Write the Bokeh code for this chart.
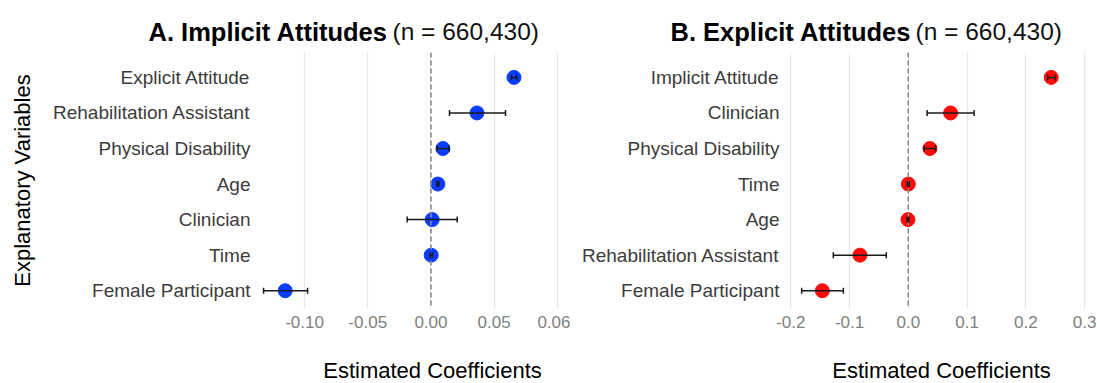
from bokeh.plotting import figure
from bokeh.models import (Span, Whisker, TeeHead, ColumnDataSource, FixedTicker,
                          Range1d, Label)
from bokeh.layouts import row, column
from bokeh.embed import file_html
from bokeh.resources import INLINE

# ---------------- data ----------------
left_vars = ["Explicit Attitude", "Rehabilitation Assistant", "Physical Disability",
             "Age", "Clinician", "Time", "Female Participant"]
left_est = [0.0657, 0.0364, 0.0095, 0.0055, 0.0010, 0.0002, -0.1153]
left_lo = [0.0637, 0.0147, 0.0047, 0.0047, -0.0188, -0.0006, -0.1324]
left_hi = [0.0677, 0.0590, 0.0145, 0.0063, 0.0208, 0.0010, -0.0976]

right_vars = ["Implicit Attitude", "Clinician", "Physical Disability", "Time",
              "Age", "Rehabilitation Assistant", "Female Participant"]
right_est = [0.2432, 0.0720, 0.0368, 0.0000, -0.0006, -0.0823, -0.1463]
right_lo = [0.2373, 0.0320, 0.0270, -0.0015, -0.0020, -0.1276, -0.1815]
right_hi = [0.2500, 0.1120, 0.0465, 0.0015, 0.0010, -0.0374, -0.1105]

left_ticks = [-0.10, -0.05, 0.0, 0.05, 0.10]
left_tick_labels = ["-0.10", "-0.05", "0.00", "0.05", "0.06"]
right_ticks = [-0.2, -0.1, 0.0, 0.1, 0.2, 0.3]
right_tick_labels = ["-0.2", "-0.1", "0.0", "0.1", "0.2", "0.3"]

titles_bold = ["A. Implicit Attitudes", "B. Explicit Attitudes"]
titles_rest = ["(n = 660,430)", "(n = 660,430)"]
x_title = "Estimated Coefficients"
y_title = "Explanatory Variables"

FONT = "Liberation Sans"
W = 1097
TITLE_H = 48
FRAME_H = 256
TOP = 4
BOTTOM = 40
XT_H = 34


def panel(vars_, est, lo, hi, color, xr, ticks, tick_labels, frame_w,
          border_l, border_r, ylab):
    n = len(vars_)
    ys = [n - i for i in range(n)]
    src = ColumnDataSource(dict(y=ys, est=est, lo=lo, hi=hi))
    p = figure(output_backend="svg", toolbar_location=None,
               frame_width=frame_w, frame_height=FRAME_H,
               min_border_left=border_l, min_border_right=border_r,
               min_border_top=TOP, min_border_bottom=BOTTOM,
               x_range=Range1d(*xr), y_range=Range1d(0.5, n + 0.7))
    p.outline_line_color = None
    p.background_fill_color = "white"
    p.border_fill_color = "white"
    p.ygrid.grid_line_color = None
    p.xgrid.grid_line_color = "#e6e6e6"
    p.xgrid.grid_line_width = 1.3
    p.xaxis.ticker = FixedTicker(ticks=ticks)
    p.xaxis.major_label_overrides = {t: l for t, l in zip(ticks, tick_labels)}
    p.yaxis.ticker = FixedTicker(ticks=ys)
    p.yaxis.major_label_overrides = {y: v for y, v in zip(ys, vars_)}
    for ax in (p.xaxis[0], p.yaxis[0]):
        ax.axis_line_color = None
        ax.major_tick_line_color = None
        ax.minor_tick_line_color = None
        ax.major_tick_out = 0
        ax.major_tick_in = 0
        ax.major_label_text_font = FONT
        ax.axis_label_text_font = FONT
        ax.axis_label_text_font_style = "normal"
        ax.axis_label_text_color = "black"
    p.xaxis.major_label_text_font_size = "17px"
    p.xaxis.major_label_text_color = "#808080"
    p.xaxis.major_label_standoff = 7
    p.yaxis.major_label_text_font_size = "19px"
    p.yaxis.major_label_text_color = "#3c3c3c"
    p.yaxis.major_label_standoff = 6
    if ylab:
        p.yaxis.axis_label = y_title
        p.yaxis.axis_label_text_font_size = "22px"
        p.yaxis.axis_label_standoff = 15

    p.add_layout(Span(location=0, dimension="height", line_color="#8c8c8c",
                      line_width=1.6, line_dash="5 3"))
    p.scatter("est", "y", source=src, size=14, fill_color=color,
              line_color=color, line_width=1)
    w = Whisker(base="y", lower="lo", upper="hi", dimension="width", source=src,
                line_color="#1a1a1a", line_width=1.5, level="overlay",
                lower_head=TeeHead(size=6, line_color="#1a1a1a", line_width=1.5),
                upper_head=TeeHead(size=6, line_color="#1a1a1a", line_width=1.5))
    p.add_layout(w)
    return p


def strip(height):
    s = figure(output_backend="svg", toolbar_location=None,
               frame_width=W, frame_height=height, min_border=0,
               x_range=Range1d(0, W), y_range=Range1d(height, 0),
               x_axis_type=None, y_axis_type=None)
    s.outline_line_color = None
    s.grid.visible = False
    return s


# title strip
pt = strip(TITLE_H)
title_pos = [(148, 392), (670, 915)]
for tb, tr, (xb, xr_) in zip(titles_bold, titles_rest, title_pos):
    pt.add_layout(Label(x=xb, y=31, text=tb, text_font=FONT,
                        text_font_style="bold", text_font_size="25.5px",
                        text_color="black", text_baseline="alphabetic",
                        text_align="left"))
    pt.add_layout(Label(x=xr_, y=31, text=tr, text_font=FONT,
                        text_font_style="normal", text_font_size="24.5px",
                        text_color="#111111", text_baseline="alphabetic",
                        text_align="left"))

# x-axis title strip
pb = strip(XT_H)
for cx in (432, 941):
    pb.add_layout(Label(x=cx, y=22, text=x_title, text_font=FONT,
                        text_font_style="normal", text_font_size="22px",
                        text_color="black", text_baseline="alphabetic",
                        text_align="center"))

p1 = panel(left_vars, left_est, left_lo, left_hi, "#0a3cff", (-0.138, 0.1025),
           left_ticks, left_tick_labels, 304, 256, 10, True)
p2 = panel(right_vars, right_est, right_lo, right_hi, "#ff0a0a", (-0.209, 0.305),
           right_ticks, right_tick_labels, 302, 215, 10, False)

layout = column(pt, row(p1, p2), pb)
open("out.html", "w").write(file_html(layout, INLINE))
